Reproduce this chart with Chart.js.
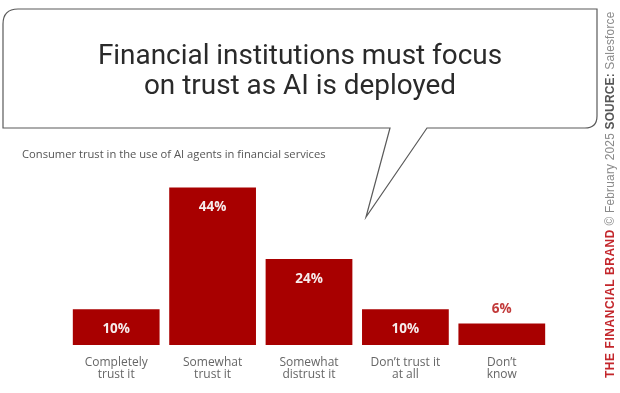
<!DOCTYPE html>
<html>
<head>
<meta charset="utf-8">
<script src="https://cdn.jsdelivr.net/npm/chart.js@4.4.1/dist/chart.umd.min.js"></script>
<style>
  html, body { margin: 0; padding: 0; background: #fff; }
  #wrap { position: relative; width: 620px; height: 393px; }
</style>
</head>
<body>
<div id="wrap"><canvas id="trust-chart" width="620" height="393"></canvas></div>
<script>
const categories = [
    ['Completely', 'trust it'],
    ['Somewhat', 'trust it'],
    ['Somewhat', 'distrust it'],
    ['Don\u2019t trust it', 'at all'],
    ['Don\u2019t', 'know']
];
const trustShare = [10, 44, 24, 10, 6];
const titleLines = ['Financial institutions must focus', 'on trust as AI is deployed'];
const subtitleText = 'Consumer trust in the use of AI agents in financial services';
const creditParts = ['THE FINANCIAL BRAND', ' \u00a9 February 2025 ', 'SOURCE:', ' Salesforce'];

const BAR_RED = '#a80000';

// speech bubble, title, subtitle and the vertical credit line
const framePlugin = {
    id: 'frame',
    beforeDraw(chart) {
        const ctx = chart.ctx;
        ctx.save();

        // bubble outline
        const L = 3, T = 9, R = 597, B = 128;
        ctx.beginPath();
        ctx.moveTo(L, B);
        ctx.lineTo(L, T + 15);
        ctx.quadraticCurveTo(L, T, L + 15, T);
        ctx.lineTo(R, T);
        ctx.lineTo(R, B - 12);
        ctx.quadraticCurveTo(R, B, R - 12, B);
        ctx.lineTo(427, B);
        ctx.lineTo(366, 217);
        ctx.lineTo(390, B);
        ctx.closePath();
        ctx.fillStyle = '#fff';
        ctx.fill();
        ctx.strokeStyle = '#5a5a5a';
        ctx.lineWidth = 1.2;
        ctx.stroke();

        // title, sized so the first line is ~404px wide
        ctx.font = '400 27px Roboto';
        const w = ctx.measureText(titleLines[0]).width;
        const size = 27 * 404 / w;
        ctx.font = `400 ${size.toFixed(1)}px Roboto`;
        ctx.fillStyle = '#2a2a2a';
        ctx.textAlign = 'center';
        ctx.textBaseline = 'alphabetic';
        ctx.fillText(titleLines[0], 300, 64);
        ctx.fillText(titleLines[1], 300, 94);

        // subtitle
        ctx.font = '400 11.2px "Open Sans"';
        ctx.fillStyle = '#555';
        ctx.textAlign = 'left';
        ctx.textBaseline = 'middle';
        ctx.fillText(subtitleText, 22, 155);

        // vertical credit, reading bottom to top, fitted to ~367px
        const styles = [
            { weight: 'bold', color: '#c3262b', spacing: 0.6 },
            { weight: '400', color: '#8a8a8a', spacing: 0.2 },
            { weight: 'bold', color: '#555', spacing: 0.2 },
            { weight: '400', color: '#8a8a8a', spacing: 0.2 }
        ];
        const measure = (fs) => {
            let total = 0;
            creditParts.forEach((part, i) => {
                ctx.font = `${styles[i].weight} ${fs}px "Liberation Sans"`;
                ctx.letterSpacing = styles[i].spacing + 'px';
                total += ctx.measureText(part).width;
            });
            return total;
        };
        const fs = 12 * 367 / measure(12);
        ctx.translate(611, 378);
        ctx.rotate(-Math.PI / 2);
        let x = 0;
        creditParts.forEach((part, i) => {
            ctx.font = `${styles[i].weight} ${fs.toFixed(2)}px "Liberation Sans"`;
            ctx.letterSpacing = styles[i].spacing + 'px';
            ctx.fillStyle = styles[i].color;
            ctx.fillText(part, x, 0);
            x += ctx.measureText(part).width;
        });
        ctx.restore();
    }
};

// percentage labels: inside the bar when there's room, above it otherwise
const valueLabels = {
    id: 'valueLabels',
    afterDatasetsDraw(chart) {
        const ctx = chart.ctx;
        const meta = chart.getDatasetMeta(0);
        ctx.save();
        ctx.font = 'bold 13.5px "Open Sans"';
        ctx.textAlign = 'center';
        ctx.textBaseline = 'middle';
        meta.data.forEach((bar, i) => {
            const v = trustShare[i];
            if (v >= 10) {
                ctx.fillStyle = '#f6ecec';
                ctx.fillText(v + '%', bar.x, bar.y + 20);
            } else {
                ctx.fillStyle = '#c23a3a';
                ctx.fillText(v + '%', bar.x, bar.y - 14);
            }
        });
        ctx.restore();
    }
};

Chart.defaults.font.family = '"Open Sans", sans-serif';

new Chart(document.getElementById('trust-chart').getContext('2d'), {
    type: 'bar',
    data: {
        labels: categories,
        datasets: [{
            data: trustShare,
            backgroundColor: BAR_RED,
            borderWidth: 0,
            categoryPercentage: 1,
            barPercentage: 0.9
        }]
    },
    options: {
        responsive: false,
        animation: false,
        layout: { padding: { top: 166, left: 68, right: 70, bottom: 0 } },
        plugins: {
            legend: { display: false },
            tooltip: { enabled: false }
        },
        scales: {
            x: {
                grid: { display: false, drawTicks: false },
                border: { display: false },
                ticks: {
                    color: '#666',
                    font: { size: 12, lineHeight: 1.05 },
                    padding: 11,
                    maxRotation: 0,
                    autoSkip: false
                },
                afterFit: (scale) => { scale.height = 48; }
            },
            y: {
                display: false,
                min: 0,
                max: 50
            }
        }
    },
    plugins: [framePlugin, valueLabels]
});
</script>
</body>
</html>
